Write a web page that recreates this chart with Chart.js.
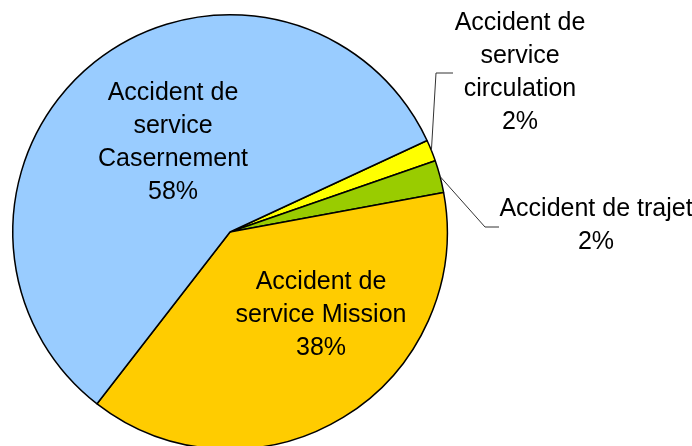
<!DOCTYPE html>
<html>
<head>
<meta charset="utf-8">
<script src="https://cdn.jsdelivr.net/npm/chart.js@4/dist/chart.umd.min.js"></script>
<style>
  html, body { margin: 0; padding: 0; background: #fff; overflow: hidden; }
  #wrap { width: 692px; height: 452px; }
</style>
</head>
<body>
<div id="wrap"><canvas id="pie" width="692" height="452"></canvas></div>
<script>
// Chart data (order is clockwise from the start angle)
const categories = [
    ['Accident de', 'service', 'circulation'],
    ['Accident de trajet'],
    ['Accident de', 'service Mission'],
    ['Accident de', 'service', 'Casernement']
];
const shares = [1.6, 2.4, 38.4, 57.6];
const sliceColors = ['#FFFF00', '#99CC00', '#FFCC00', '#99CCFF'];

// Label layout (center x, first line y) and leader elbows for outside labels
const labelLayout = [
    { x: 520, y: 23, leader: [[436, 73], [453, 73]] },
    { x: 596, y: 209, leader: [[485, 227], [499, 227]] },
    { x: 321, y: 282 },
    { x: 173, y: 93 }
];
const lineHeight = 33;

const pieLabels = {
    id: 'pieLabels',
    afterDatasetsDraw(chart) {
        const ctx = chart.ctx;
        const meta = chart.getDatasetMeta(0);
        const total = shares.reduce((a, b) => a + b, 0);
        ctx.save();
        meta.data.forEach((arc, i) => {
            const layout = labelLayout[i];
            // leader line from the slice edge
            if (layout.leader) {
                const mid = (arc.startAngle + arc.endAngle) / 2;
                const sx = arc.x + Math.cos(mid) * arc.outerRadius;
                const sy = arc.y + Math.sin(mid) * arc.outerRadius;
                ctx.beginPath();
                ctx.moveTo(sx, sy);
                layout.leader.forEach(p => ctx.lineTo(p[0], p[1]));
                ctx.strokeStyle = '#333';
                ctx.lineWidth = 1;
                ctx.stroke();
            }
            const lines = categories[i].concat([Math.round(shares[i] / total * 100) + '%']);
            ctx.fillStyle = '#000';
            ctx.font = '25px "Liberation Sans", Arial, sans-serif';
            ctx.textAlign = 'center';
            ctx.textBaseline = 'middle';
            lines.forEach((t, k) => ctx.fillText(t, layout.x, layout.y + k * lineHeight));
        });
        ctx.restore();
    }
};

new Chart(document.getElementById('pie'), {
    type: 'pie',
    data: {
        labels: categories.map(c => c.join(' ')),
        datasets: [{
            data: shares,
            backgroundColor: sliceColors,
            borderColor: '#000',
            borderWidth: 1.5
        }]
    },
    options: {
        responsive: false,
        animation: false,
        rotation: 65.1,
        layout: { padding: { left: 12, top: 14, right: 244, bottom: 2 } },
        plugins: {
            legend: { display: false },
            tooltip: { enabled: false }
        }
    },
    plugins: [pieLabels]
});
</script>
</body>
</html>
